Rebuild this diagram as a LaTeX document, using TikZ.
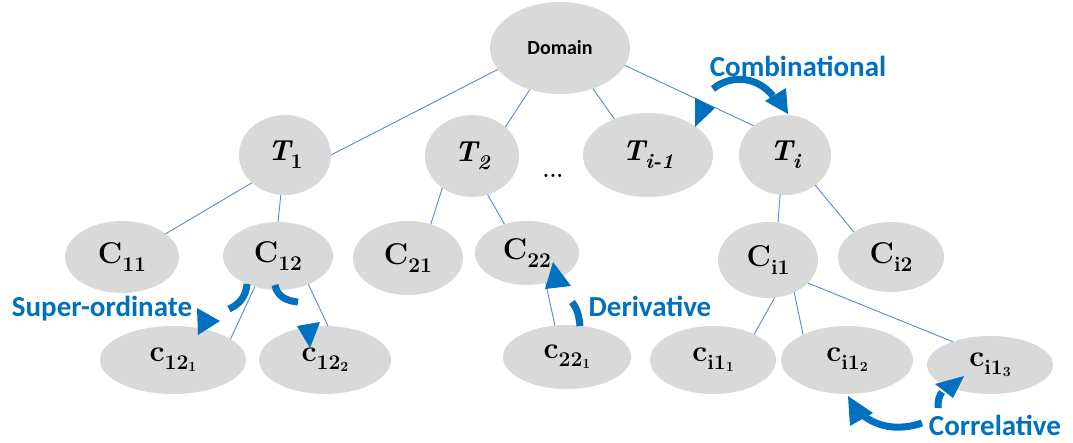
\documentclass[tikz,border=0pt]{standalone}
\usepackage{fontspec}
\newfontfamily\labelfont{Carlito}
\usetikzlibrary{shapes.geometric}
\definecolor{nodegray}{HTML}{D9D9D9}
\definecolor{linkblue}{HTML}{5B87D6}
\definecolor{relblue}{HTML}{0070C0}
% lowered index text and second-level index text
\newcommand\idx[1]{\raisebox{-0.27em}{\fontsize{21}{22}\selectfont #1}}
\newcommand\idxx[1]{\raisebox{-0.1em}{\fontsize{14}{15}\selectfont #1}}

\begin{document}
\begin{tikzpicture}[x=1pt,y=-1pt,
  oval/.style={ellipse, fill=nodegray, inner sep=0pt, outer sep=0pt,
    font=\fontsize{30}{34}\selectfont\bfseries},
  topic/.style={oval, font=\fontsize{29}{32}\selectfont\bfseries\itshape},
  link/.style={draw=linkblue, line width=0.9pt},
  relshaft/.style={draw=relblue, line width=7pt},
  relhead/.style={fill=relblue},
  rellabel/.style={text=relblue, anchor=base, inner sep=0pt,
    font=\labelfont\bfseries\fontsize{29}{32}\selectfont}]

\useasboundingbox (0,0) rectangle (1073,443);

% root
\node[oval, minimum width=140pt, minimum height=92pt] (D) at (560,48)
  {\labelfont\bfseries\fontsize{20}{22}\selectfont Domain};

% topics
\node[topic, minimum width=92pt, minimum height=80pt] (T1) at (285,155) {T\idx{\upshape 1}};
\node[topic, minimum width=94pt, minimum height=82pt] (T2) at (472,156) {T\idx{2}};
\node[topic, minimum width=130pt, minimum height=84pt] (Tm) at (648,155) {T\idx{i-1}};
\node[topic, minimum width=92pt, minimum height=80pt] (Ti) at (785,155) {T\idx{i}};
\node[font=\fontsize{22}{24}\selectfont\bfseries, inner sep=0pt] (dots) at (553,176) {...};

% concepts
\node[oval, minimum width=114pt, minimum height=72pt] (C11) at (122,257) {C\idx{11}};
\node[oval, minimum width=110pt, minimum height=68pt] (C12) at (278,256) {C\idx{12}};
\node[oval, minimum width=110pt, minimum height=74pt] (C21) at (408,258) {C\idx{21}};
\node[oval, minimum width=104pt, minimum height=64pt] (C22) at (527,253) {C\idx{22}};
\node[oval, minimum width=100pt, minimum height=76pt] (Ci1) at (768,260) {C\idx{i1}};
\node[oval, minimum width=106pt, minimum height=70pt] (Ci2) at (891,257) {C\idx{i2}};

% sub-concepts
\node[oval, minimum width=146pt, minimum height=68pt] (c121) at (173,360) {c\idx{12\idxx{1}}};
\node[oval, minimum width=132pt, minimum height=68pt] (c122) at (325,360) {c\idx{12\idxx{2}}};
\node[oval, minimum width=128pt, minimum height=64pt] (c221) at (567,357) {c\idx{22\idxx{1}}};
\node[oval, minimum width=126pt, minimum height=68pt] (ci11) at (713,360) {c\idx{i1\idxx{1}}};
\node[oval, minimum width=132pt, minimum height=68pt] (ci12) at (847,360) {c\idx{i1\idxx{2}}};
\node[oval, minimum width=126pt, minimum height=58pt] (ci13) at (990,365) {c\idx{i1\idxx{3}}};

% hierarchy links
\draw[link] (D.199.5) -- (T1.0);
\draw[link] (D.234.5) -- (T2.41.5);
\draw[link] (D.309.8) -- (Tm.133.3);
\draw[link] (D.345) -- (Ti.137);
\draw[link] (T1.220.6) -- (C11.28.6);
\draw[link] (T1.264) -- (C12.90);
\draw[link] (T2.227.8) -- (C21.56.3);
\draw[link] (T2.292.8) -- (C22.128.2);
\draw[link] (Ti.263) -- (Ci1.75);
\draw[link] (Ti.315) -- (Ci2.146.7);
\draw[link] (C12.233.4) -- (c121.20.4);
\draw[link] (C12.317.8) -- (c122.85);
\draw[link] (C22.302) -- (c221.111.2);
\draw[link] (Ci1.280) -- (ci11.32);
\draw[link] (Ci1.309) -- (ci12.150);
\draw[link] (Ci1.330) -- (ci13.148.7);

% combinational relation
\draw[relshaft] (713,89) .. controls (728,76) and (755,74) .. (773,96);
\fill[relhead] (765,101) -- (786,88) -- (788,114) -- cycle;
\fill[relhead] (695,98) -- (715,108) -- (695,127) -- cycle;
\node[rellabel] (lcomb) at (798,77) {Combinational};

% super-ordinate relation
\draw[relshaft] (247,284) .. controls (246,296) and (240,304) .. (229,309);
\fill[relhead] (197,308) -- (220,321) -- (198,335) -- cycle;
\draw[relshaft] (275,285) .. controls (277,296) and (286,301) .. (298,302);
\fill[relhead] (297,326) -- (320,322) -- (310,348) -- cycle;
\node[rellabel] (lsup) at (102,317) {Super-ordinate};

% derivative relation
\draw[relshaft] (580,326) .. controls (579,314) and (576,307) .. (572,302);
\fill[relhead] (553,262) -- (545,289) -- (571,286) -- cycle;
\node[rellabel] (lder) at (650,317) {Derivative};

% correlative relation
\draw[relshaft] (922,423) .. controls (905,429) and (882,430) .. (864,416);
\fill[relhead] (848,396) -- (850,426) -- (873,413) -- cycle;
\draw[relshaft] (938,408) .. controls (938,400) and (939,396) .. (942,392);
\fill[relhead] (964,376) -- (935,384) -- (953,398) -- cycle;
\node[rellabel] (lcor) at (995,435) {Correlative};

\end{tikzpicture}
\end{document}
